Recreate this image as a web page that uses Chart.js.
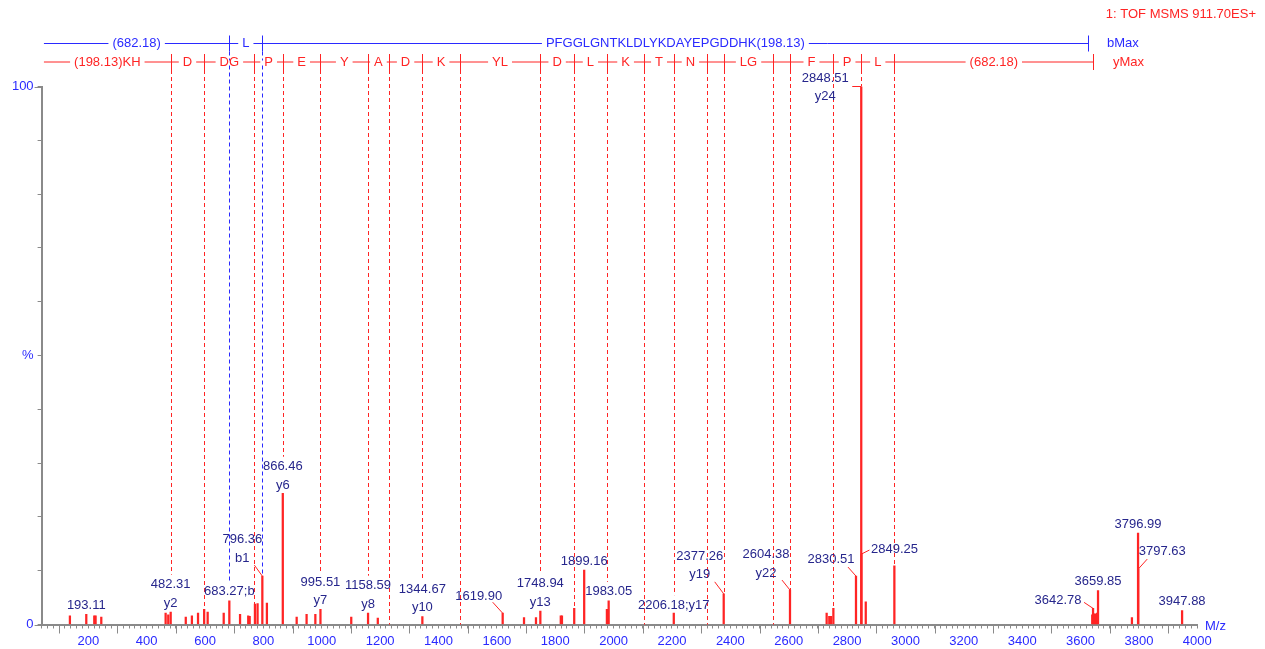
<!DOCTYPE html>
<html>
<head>
<meta charset="utf-8">
<script src="https://cdn.jsdelivr.net/npm/chart.js@4.4.1/dist/chart.umd.min.js"></script>
<style>
html, body { margin: 0; padding: 0; background: #fff; }
</style>
</head>
<body>
<canvas id="spectrum" width="1265" height="649"></canvas>
<script>
// peaks: m/z and relative intensity (%)
const peakMz = [137, 193.11, 220.5, 225, 244.5, 465, 474, 482.31, 534, 555, 576, 597, 609, 664, 683.27, 720, 748, 753, 771, 780, 796.36, 812, 866.46, 914, 948, 978, 995.51, 1101, 1158.59, 1192, 1344.67, 1619.90, 1693, 1734, 1748.94, 1819, 1823, 1865, 1899.16, 1977, 1983.05, 2206.18, 2377.26, 2604.38, 2730, 2739, 2745, 2753, 2830.51, 2848.51, 2849.25, 2864, 2962, 3640, 3642.78, 3646, 3649, 3652, 3655, 3657, 3659.85, 3776, 3796.99, 3797.63, 3947.88];
const peakInt = [1.6, 1.9, 1.6, 1.6, 1.4, 2.1, 1.8, 2.3, 1.4, 1.6, 2.1, 2.8, 2.3, 2.1, 4.4, 1.9, 1.6, 1.5, 3.8, 3.9, 9.0, 4.0, 24.4, 1.4, 1.9, 1.9, 2.8, 1.4, 2.1, 1.2, 1.45, 2.1, 1.3, 1.3, 2.5, 1.6, 1.6, 3.0, 10.1, 2.8, 4.4, 2.1, 5.7, 6.4, 2.1, 1.5, 1.5, 3.0, 9.0, 100, 13.1, 4.2, 10.9, 1.8, 3.0, 2.0, 1.7, 2.0, 1.8, 2.1, 6.3, 1.3, 17.0, 10.3, 2.6];

// annotated peaks
const labelMz = [193.11, 482.31, 683.27, 796.36, 866.46, 995.51, 1158.59, 1344.67, 1619.90, 1748.94, 1899.16, 1983.05, 2206.18, 2377.26, 2604.38, 2830.51, 2848.51, 2849.25, 3642.78, 3659.85, 3796.99, 3797.63, 3947.88];
const labelText = ['193.11', '482.31\ny2', '683.27;b', '796.36\nb1', '866.46\ny6', '995.51\ny7', '1158.59\ny8', '1344.67\ny10', '1619.90', '1748.94\ny13', '1899.16', '1983.05', '2206.18;y17', '2377.26\ny19', '2604.38\ny22', '2830.51', '2848.51\ny24', '2849.25', '3642.78', '3659.85', '3796.99', '3797.63', '3947.88'];
// label spot against the peak top in px: [dx, dy of last line, leader dx, leader dy]
const labelPlace = [[0, -9], [0, -9], [0, -9], [-20, -18, -8, -11], [0, -8], [0, -9], [0, -9], [0, -9], [-24, -17, -10, -11], [0, -9], [0, -9], [0, -9], [0, -8], [-24, -19, -9, -12], [-24, -17, -8, -10], [-25, -17, -8, -9], [-36, 10, -9, 0], [33, -5, 8, -4], [-35, -8, -9, -6], [0, -9], [0, -9], [24, -18, 9, -10], [0, -9]];

// b ion ladder (blue) and y ion ladder (red): break points and the text between them
const bLadderMz = [48, 683.27, 796.36, 3626.8];
const bLadderText = ['(682.18)', 'L', 'PFGGLGNTKLDLYKDAYEPGDDHK(198.13)'];
const yLadderMz = [48, 482.31, 597.34, 769.39, 866.46, 995.51, 1158.59, 1229.6, 1344.67, 1472.7, 1748.94, 1863.9, 1977.0, 2105.1, 2206.18, 2320.2, 2377.26, 2547.4, 2604.38, 2751.5, 2848.51, 2961.6, 3643.8];
const yLadderText = ['(198.13)KH', 'D', 'DG', 'P', 'E', 'Y', 'A', 'D', 'K', 'YL', 'D', 'L', 'K', 'T', 'N', '', 'LG', '', 'F', 'P', 'L', '(682.18)'];

const FONT = '13px "Liberation Sans", Arial, sans-serif';
const RED = '#ff2424';
const BLUE = '#2a2aff';
const NAVY = '#26268c';
const GREY = '#8a8a8a';

function peakTop(chart, mz) {
    const i = peakMz.indexOf(mz);
    return chart.scales.y.getPixelForValue(i >= 0 ? peakInt[i] : 0);
}

function labelBoxes(chart) {
    const x = chart.scales.x;
    return labelMz.map((mz, i) => {
        const p = labelPlace[i];
        const lines = labelText[i].split('\n');
        const top = peakTop(chart, mz);
        const cx = x.getPixelForValue(mz) + p[0];
        const lastY = top + p[1];
        return { mz, lines, cx, lastY, firstY: lastY - 18.5 * (lines.length - 1), p, top };
    });
}

// where a ladder drop line stops
function dropEnd(chart, mz, boxes) {
    const lab = boxes.find(b => Math.abs(b.mz - mz) < 7);
    if (lab) return lab.p[0] === 0 ? lab.firstY - 10 : lab.top;
    const i = peakMz.findIndex(m => Math.abs(m - mz) < 3);
    if (i >= 0) return chart.scales.y.getPixelForValue(peakInt[i]);
    return chart.chartArea.bottom;
}

const ladderY = { b: 43.5, y: 62 };

const spectrumPlugin = {
    id: 'spectrum',
    beforeDatasetsDraw(chart) {
        const ctx = chart.ctx;
        const x = chart.scales.x;
        const boxes = labelBoxes(chart);
        ctx.save();
        ctx.lineWidth = 1;
        ctx.setLineDash([4, 3]);
        [[yLadderMz, RED, ladderY.y], [bLadderMz, BLUE, ladderY.b]].forEach(([mzs, color, ly]) => {
            ctx.strokeStyle = color;
            for (let i = 1; i < mzs.length - 1; i++) {
                const px = Math.round(x.getPixelForValue(mzs[i])) + 0.5;
                ctx.beginPath();
                ctx.moveTo(px, ly + 8);
                ctx.lineTo(px, dropEnd(chart, mzs[i], boxes));
                ctx.stroke();
            }
        });
        ctx.restore();
    },
    afterDatasetsDraw(chart) {
        const ctx = chart.ctx;
        const x = chart.scales.x;
        const area = chart.chartArea;
        ctx.save();
        ctx.font = FONT;
        ctx.textAlign = 'center';
        ctx.textBaseline = 'middle';

        // peak labels and leaders
        labelBoxes(chart).forEach(b => {
            const px = x.getPixelForValue(b.mz);
            if (b.p.length > 2) {
                ctx.strokeStyle = RED;
                ctx.lineWidth = 1;
                ctx.beginPath();
                ctx.moveTo(px, b.top);
                ctx.lineTo(px + b.p[2], b.top + b.p[3]);
                ctx.stroke();
            }
            ctx.fillStyle = NAVY;
            b.lines.forEach((t, k) => ctx.fillText(t, b.cx, b.firstY + 18.5 * k));
        });

        // longer ticks on the axes
        ctx.strokeStyle = GREY;
        ctx.lineWidth = 1;
        for (let v = 100; v < 4000; v += 200) {
            const px = Math.round(x.getPixelForValue(v)) + 0.5;
            ctx.beginPath();
            ctx.moveTo(px, area.bottom);
            ctx.lineTo(px, area.bottom + 9);
            ctx.stroke();
        }
        [0, 100].forEach(v => {
            const py = Math.round(chart.scales.y.getPixelForValue(v)) + 0.5;
            ctx.beginPath();
            ctx.moveTo(area.left - 7, py);
            ctx.lineTo(area.left, py);
            ctx.stroke();
        });

        // fragment ladders
        drawLadder(ctx, x, bLadderMz, bLadderText, BLUE, ladderY.b);
        drawLadder(ctx, x, yLadderMz, yLadderText, RED, ladderY.y);

        ctx.textAlign = 'left';
        ctx.fillStyle = BLUE;
        ctx.fillText('bMax', 1107, ladderY.b);
        ctx.fillText('M/z', 1205, 626);
        ctx.fillStyle = RED;
        ctx.fillText('yMax', 1113, ladderY.y);
        ctx.textAlign = 'right';
        ctx.fillText('1: TOF MSMS 911.70ES+', 1256, 14);
        ctx.restore();
    }
};

function drawLadder(ctx, x, mzs, texts, color, ly) {
    const px = mzs.map(m => x.getPixelForValue(m));
    ctx.strokeStyle = color;
    ctx.lineWidth = 1;
    ctx.setLineDash([]);
    ctx.beginPath();
    ctx.moveTo(px[0], ly);
    ctx.lineTo(px[px.length - 1], ly);
    ctx.stroke();
    for (let i = 1; i < px.length; i++) {
        const tx = Math.round(px[i]) + 0.5;
        ctx.beginPath();
        ctx.moveTo(tx, ly - 8);
        ctx.lineTo(tx, ly + 8);
        ctx.stroke();
    }
    texts.forEach((t, i) => {
        if (!t) return;
        const cx = (px[i] + px[i + 1]) / 2;
        const w = ctx.measureText(t).width;
        ctx.fillStyle = '#fff';
        ctx.fillRect(cx - w / 2 - 4, ly - 1.5, w + 8, 3);
        ctx.fillStyle = color;
        ctx.fillText(t, cx, ly);
    });
}

const ctx = document.getElementById('spectrum').getContext('2d');
const chart = new Chart(ctx, {
    type: 'bar',
    data: {
        datasets: [{
            data: peakMz.map((m, i) => ({ x: m, y: peakInt[i] })),
            backgroundColor: RED,
            borderWidth: 0,
            barThickness: 1.6,
            grouped: false
        }]
    },
    options: {
        responsive: false,
        animation: false,
        layout: { padding: { top: 86.5, right: 67.7, left: 0, bottom: 0 } },
        plugins: { legend: { display: false }, tooltip: { enabled: false } },
        scales: {
            x: {
                type: 'linear', min: 40, max: 4000, offset: false,
                afterFit: s => { s.height = 24.5; },
                border: { color: GREY, width: 2 },
                grid: { offset: false, drawOnChartArea: false, tickLength: 4, color: GREY },
                ticks: {
                    stepSize: 20, autoSkip: false, maxRotation: 0, padding: 5,
                    color: BLUE, font: { family: '"Liberation Sans", Arial', size: 13 },
                    callback: v => (v % 200 === 0 ? String(v) : '')
                }
            },
            y: {
                min: 0, max: 100,
                afterFit: s => { s.width = 41.6; },
                border: { color: GREY, width: 2 },
                grid: { drawOnChartArea: false, tickLength: 4, color: GREY },
                ticks: {
                    stepSize: 10, padding: 4,
                    color: BLUE, font: { family: '"Liberation Sans", Arial', size: 13 },
                    callback: v => (v === 100 ? '100' : v === 50 ? '%' : v === 0 ? '0' : '')
                }
            }
        }
    },
    plugins: [spectrumPlugin]
});
</script>
</body>
</html>
